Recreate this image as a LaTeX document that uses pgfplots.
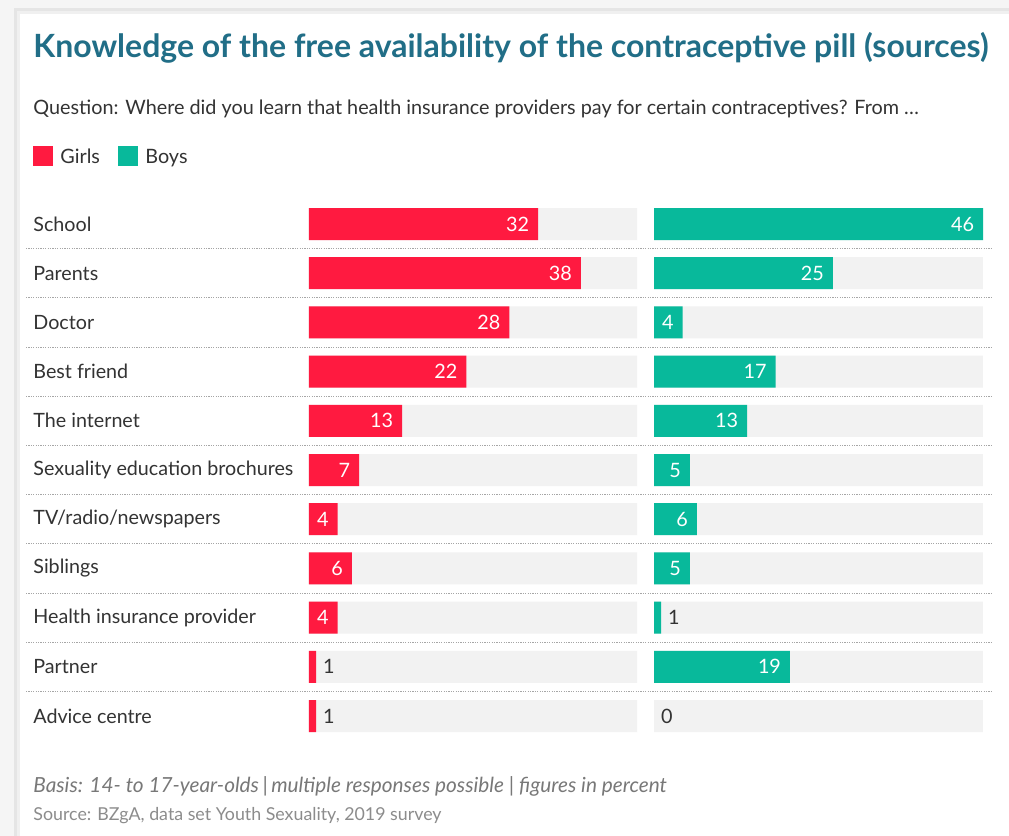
\documentclass[border=0pt]{standalone}
\usepackage{pgfplots}
\pgfplotsset{compat=1.18}
\usepackage{pgfplotstable}
\usepackage{fontspec}
\setmainfont{Lato}
\definecolor{titleblue}{RGB}{33,110,135}
\definecolor{girlred}{RGB}{255,26,64}
\definecolor{boyteal}{RGB}{8,185,155}
\definecolor{track}{RGB}{242,242,242}
\definecolor{txt}{RGB}{51,51,51}
\definecolor{foot}{RGB}{120,120,120}

\pgfplotstableread{
row girls boys
0 32 46
1 38 25
2 28 4
3 22 17
4 13 13
5 7 5
6 4 6
7 6 5
8 4 1
9 1 19
10 1 0
}\sources

% value label: white inside the bar, dark just outside for short bars
\newcommand\vlab[1]{\pgfmathtruncatemacro\vv{#1}%
  \ifnum\vv<4 \rlap{\hspace{3.5pt}\color{txt}\vv}\else\llap{\color{white}\vv\hspace{4.5pt}}\fi}

\pgfplotsset{panel/.style={
    xbar, bar shift=0pt, bar width=0.65,
    scale only axis, width=164.6pt, height=270.6pt,
    xmin=0, xmax=46, ymin=-0.5, ymax=10.5, y dir=reverse,
    axis line style={draw=none}, major tick length=0pt,
    xtick=\empty, ytick={0,...,10},
    clip=false,
    every axis plot/.append style={draw=none},
  },
  vlabels/.style={sharp plot, draw=none, mark=none,
    visualization depends on={rawx \as \rx},
    nodes near coords={\vlab{\rx}},
    every node near coord/.append style={anchor=center, inner sep=0pt, font=\fontsize{9.9}{12}\selectfont}},
}

\begin{document}
\begin{tikzpicture}[x=0.5pt,y=-0.5pt]
\useasboundingbox (0,0) rectangle (1009,836);
% card with a soft shadow
\fill[black!4] (0,0) rectangle (1009,836);
\fill[black!10] (14,8) rectangle (1009,836);
\fill[black!6] (17,11) rectangle (1009,836);
\fill[white] (20,14) rectangle (1009,836);

\node[anchor=base west, inner sep=0pt, font=\bfseries\fontsize{16}{18}\selectfont, text=titleblue] at (33,57)
  {Knowledge of the free availability of the contraceptive pill (sources)};
\node[anchor=base west, inner sep=0pt, font=\fontsize{9.9}{11}\selectfont, text=txt] at (33,114)
  {Question: Where did you learn that health insurance providers pay for certain contraceptives? From \dots};

% legend
\fill[girlred] (33,146) rectangle (53,166);
\node[anchor=base west, inner sep=0pt, font=\fontsize{9.9}{11}\selectfont, text=txt] at (60,163) {Girls};
\fill[boyteal] (118,146) rectangle (138,166);
\node[anchor=base west, inner sep=0pt, font=\fontsize{9.9}{11}\selectfont, text=txt] at (145,163) {Boys};

% dotted separators
\foreach \i in {0,...,9}
  \draw[black!35, line width=0.5pt, dash pattern=on 0.6pt off 0.6pt] (26,248.6+49.2*\i) -- (992,248.6+49.2*\i);

\begin{axis}[panel, at={(154.5pt,-370.3pt)}, anchor=south west,
    yticklabels={School,Parents,Doctor,Best friend,The internet,Sexuality education brochures,
      TV/radio/newspapers,Siblings,Health insurance provider,Partner,Advice centre},
    yticklabel style={anchor=west, xshift=-138pt, inner xsep=0pt, font=\fontsize{9.85}{12}\selectfont, text=txt}]
  \addplot[fill=track] coordinates {(45.85,0) (45.85,1) (45.85,2) (45.85,3) (45.85,4) (45.85,5)
    (45.85,6) (45.85,7) (45.85,8) (45.85,9) (45.85,10)};
  \addplot[fill=girlred, restrict x to domain=0.5:100] table[x=girls, y=row] {\sources};
  \addplot[vlabels] table[x=girls, y=row] {\sources};
\end{axis}

\begin{axis}[panel, at={(327pt,-370.3pt)}, anchor=south west, yticklabels={}]
  \addplot[fill=track] coordinates {(45.95,0) (45.95,1) (45.95,2) (45.95,3) (45.95,4) (45.95,5)
    (45.95,6) (45.95,7) (45.95,8) (45.95,9) (45.95,10)};
  \addplot[fill=boyteal, restrict x to domain=0.5:100] table[x=boys, y=row] {\sources};
  \addplot[vlabels] table[x=boys, y=row] {\sources};
\end{axis}

\node[anchor=base west, inner sep=0pt, font=\itshape\fontsize{10.4}{12}\selectfont, text=foot] at (33,792)
  {Basis: 14- to 17-year-olds\,|\,multiple responses possible | figures in percent};
\node[anchor=base west, inner sep=0pt, font=\fontsize{8.9}{11}\selectfont, text=black!45] at (33,820)
  {Source: BZgA, data set Youth Sexuality, 2019 survey};
\end{tikzpicture}
\end{document}
